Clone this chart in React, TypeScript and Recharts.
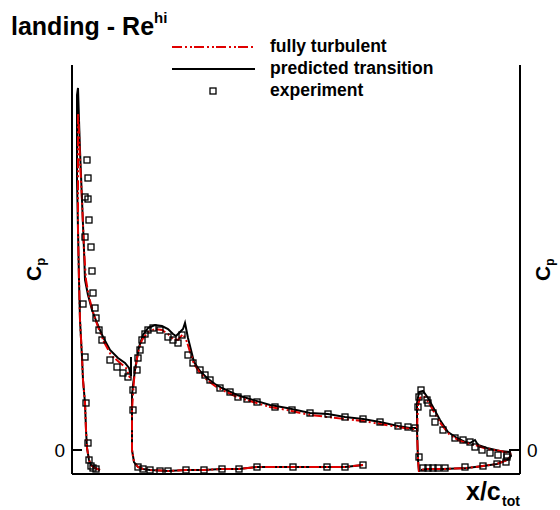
import React from 'react';
import { ComposedChart, Line, Scatter, XAxis, YAxis } from 'recharts';

// x = x/c_tot (plot units), y = -Cp
const slatTransition: [number, number][] = [
  [0.07, -0.2], [0.0575, -0.18], [0.0475, -0.15], [0.0425, -0.1], [0.0375, 0.02], [0.035, 0.2],
  [0.0325, 0.47], [0.0275, 0.7], [0.025, 0.93], [0.02, 1.3], [0.0175, 1.7], [0.015, 2.2],
  [0.0125, 2.7], [0.0125, 3.1], [0.0125, 3.4], [0.0125, 3.55], [0.015, 3.62], [0.0175, 3.3],
  [0.02, 3.0], [0.025, 2.5], [0.03, 2.0], [0.0325, 1.7], [0.04, 1.55], [0.05, 1.4],
  [0.0625, 1.27], [0.0775, 1.13], [0.095, 1.0], [0.115, 0.92], [0.1325, 0.87], [0.1425, 0.82],
  [0.1475, 0.74], [0.1475, 0.93],
];
const slatTurbulent: [number, number][] = [
  [0.07, -0.2], [0.0575, -0.18], [0.0475, -0.15], [0.0425, -0.1], [0.0375, 0.02], [0.035, 0.2],
  [0.0325, 0.47], [0.0275, 0.7], [0.025, 0.93], [0.02, 1.3], [0.0175, 1.7], [0.015, 2.2],
  [0.015, 2.7], [0.015, 3.1], [0.015, 3.37], [0.0175, 3.2], [0.02, 2.9], [0.025, 2.5],
  [0.03, 2.0], [0.035, 1.7], [0.0425, 1.53], [0.0525, 1.38], [0.065, 1.23], [0.08, 1.08],
  [0.0975, 0.95], [0.1175, 0.88], [0.135, 0.82], [0.145, 0.72],
];
const mainTransition: [number, number][] = [
  [0.7275, -0.15], [0.6825, -0.17], [0.6375, -0.17], [0.5525, -0.17], [0.4625, -0.17], [0.4175, -0.19],
  [0.3725, -0.19], [0.33, -0.2], [0.285, -0.2], [0.24, -0.21], [0.195, -0.2], [0.1775, -0.19],
  [0.165, -0.17], [0.155, -0.12], [0.15, 0.0], [0.15, 0.2], [0.15, 0.4], [0.15, 0.55],
  [0.1525, 0.65], [0.1575, 0.8], [0.1625, 0.92], [0.1675, 1.03], [0.1775, 1.15], [0.19, 1.22],
  [0.2075, 1.25], [0.225, 1.24], [0.24, 1.21], [0.2525, 1.16], [0.26, 1.14], [0.27, 1.18],
  [0.2775, 1.21], [0.2825, 1.27], [0.29, 1.12], [0.2975, 1.0], [0.305, 0.88], [0.32, 0.79],
  [0.3375, 0.72], [0.3575, 0.66], [0.375, 0.62], [0.4125, 0.55], [0.4525, 0.5], [0.495, 0.45],
  [0.5375, 0.42], [0.595, 0.37], [0.64, 0.36], [0.6825, 0.33], [0.7275, 0.31], [0.77, 0.28],
  [0.815, 0.24], [0.845, 0.22], [0.865, 0.22],
];
const mainTurbulent: [number, number][] = [
  [0.7275, -0.15], [0.6825, -0.17], [0.6375, -0.17], [0.5525, -0.17], [0.4625, -0.17], [0.4175, -0.19],
  [0.3725, -0.19], [0.33, -0.2], [0.285, -0.2], [0.24, -0.21], [0.195, -0.2], [0.1775, -0.19],
  [0.165, -0.17], [0.155, -0.12], [0.15, 0.0], [0.15, 0.2], [0.15, 0.4], [0.1525, 0.55],
  [0.155, 0.7], [0.16, 0.85], [0.165, 0.98], [0.175, 1.1], [0.19, 1.18], [0.2075, 1.21],
  [0.225, 1.2], [0.24, 1.16], [0.2525, 1.11], [0.265, 1.1], [0.2775, 1.16], [0.2875, 1.08],
  [0.295, 0.98], [0.305, 0.86], [0.32, 0.77], [0.3375, 0.7], [0.3575, 0.64], [0.375, 0.6],
  [0.4125, 0.53], [0.4525, 0.48], [0.495, 0.43], [0.5375, 0.4], [0.595, 0.35], [0.64, 0.33],
  [0.6825, 0.31], [0.7275, 0.29], [0.77, 0.26], [0.815, 0.23], [0.845, 0.21], [0.865, 0.21],
];
const flapTransition: [number, number][] = [
  [0.8675, -0.22], [0.865, -0.1], [0.8625, 0.2], [0.8625, 0.47], [0.8675, 0.58], [0.8775, 0.59],
  [0.89, 0.52], [0.9025, 0.43], [0.92, 0.3], [0.94, 0.18], [0.9625, 0.12], [0.9825, 0.08],
  [0.995, 0.07], [1.0075, 0.1], [1.015, 0.05], [1.0375, 0.02], [1.07, -0.01], [1.095, -0.02],
  [1.0975, -0.06], [1.0875, -0.1], [1.0625, -0.14], [1.0275, -0.16], [0.9875, -0.18], [0.9275, -0.19],
  [0.8875, -0.19], [0.8725, -0.2],
];
const flapTurbulent: [number, number][] = [
  [0.8675, -0.22], [0.865, -0.1], [0.8625, 0.2], [0.865, 0.45], [0.87, 0.52], [0.88, 0.54],
  [0.8925, 0.47], [0.905, 0.38], [0.9225, 0.26], [0.9425, 0.16], [0.965, 0.1], [0.985, 0.07],
  [1.0075, 0.05], [1.0375, 0.01], [1.07, -0.01], [1.095, -0.03], [1.0975, -0.06], [1.0875, -0.1],
  [1.0625, -0.14], [1.0275, -0.16], [0.9875, -0.18], [0.9275, -0.19], [0.8875, -0.19], [0.8725, -0.2],
];
const experiment: [number, number][] = [
  // slat
  [0.0375, 2.9], [0.04, 2.72], [0.0325, 2.53], [0.04, 2.51], [0.0425, 2.3], [0.0325, 2.13],
  [0.0475, 2.03], [0.05, 1.79], [0.0525, 1.57], [0.0275, 1.46], [0.0575, 1.42], [0.06, 1.32],
  [0.0675, 1.2], [0.075, 1.1], [0.095, 0.9], [0.1125, 0.83], [0.1275, 0.77], [0.14, 0.73],
  [0.0325, 0.93], [0.035, 0.47], [0.04, 0.07], [0.0425, -0.1], [0.0475, -0.16], [0.0525, -0.18],
  [0.06, -0.19],
  // main
  [0.1525, 0.6], [0.1525, 0.4], [0.1625, 0.8], [0.165, 0.92], [0.17, 1.0], [0.175, 1.1],
  [0.1825, 1.16], [0.19, 1.2], [0.2025, 1.22], [0.22, 1.2], [0.24, 1.13], [0.2525, 1.1],
  [0.265, 1.07], [0.275, 1.15], [0.29, 0.95], [0.3025, 0.87], [0.32, 0.8], [0.3325, 0.75],
  [0.345, 0.7], [0.37, 0.62], [0.395, 0.58], [0.415, 0.53], [0.4375, 0.51], [0.4625, 0.48],
  [0.5075, 0.43], [0.55, 0.4], [0.595, 0.37], [0.64, 0.36], [0.6825, 0.33], [0.7275, 0.31],
  [0.77, 0.28], [0.815, 0.24], [0.84, 0.23], [0.8575, 0.22],
  [0.165, -0.17], [0.1775, -0.19], [0.195, -0.2], [0.22, -0.21], [0.24, -0.21], [0.285, -0.2],
  [0.33, -0.2], [0.375, -0.19], [0.4175, -0.19], [0.4625, -0.17], [0.5525, -0.17], [0.6375, -0.17],
  [0.6825, -0.17], [0.7275, -0.15],
  // flap
  [0.8725, 0.6], [0.8675, 0.53], [0.865, 0.43], [0.8875, 0.5], [0.89, 0.47], [0.9025, 0.37],
  [0.9075, 0.28], [0.9275, 0.2], [0.9575, 0.12], [0.9775, 0.1], [0.995, 0.08], [1.0075, 0.03],
  [1.025, 0.0], [1.045, -0.03], [1.065, -0.05], [1.0875, -0.07], [1.085, -0.12], [1.0875, -0.05],
  [0.8675, -0.07], [0.8775, -0.18], [0.89, -0.18], [0.9025, -0.18], [0.915, -0.18], [0.9325, -0.18],
  [0.9825, -0.17], [1.0275, -0.16], [1.0625, -0.14],
];

const xDomain: [number, number] = [0, 1.12];
const yDomain: [number, number] = [-0.24, 3.85];
const yTicks = [0];

const toPts = (a: [number, number][]) => a.map(([x, y]) => ({ x, y }));

const FONT = '"Liberation Sans", Arial, Helvetica, sans-serif';
const RED = '#e00000';
const DASH = '10 3 2 3 2 2';

const LeftTick = (props: any) => {
  const { x, y, payload } = props;
  return (
    <g>
      <line x1={x} x2={x + 10} y1={y} y2={y} stroke="#000" strokeWidth={2} />
      <text x={x - 7} y={y + 7} textAnchor="end" fontSize={19} fontFamily={FONT} fill="#000">
        {payload.value}
      </text>
    </g>
  );
};
const RightTick = (props: any) => {
  const { x, y, payload } = props;
  return (
    <g>
      <line x1={x - 11} x2={x} y1={y} y2={y} stroke="#000" strokeWidth={2} />
      <text x={x + 7} y={y + 7} textAnchor="start" fontSize={19} fontFamily={FONT} fill="#000">
        {payload.value}
      </text>
    </g>
  );
};

const Square = (props: any) => {
  const { cx, cy } = props;
  if (cx == null || cy == null) return null;
  return <rect x={cx - 3} y={cy - 3} width={6} height={6} fill="none" stroke="#000" strokeWidth={1.3} />;
};

export default function App() {
  const lineCommon = {
    type: 'linear' as const,
    dataKey: 'y',
    dot: false,
    activeDot: false,
    isAnimationActive: false,
    yAxisId: 'left',
    strokeWidth: 2,
  };
  return (
    <div style={{ position: 'absolute', left: 0, top: 0, width: 560, height: 510, background: '#fff' }}>
      <ComposedChart width={560} height={510} margin={{ top: 65, right: 0, bottom: 0, left: 0 }}>
        <XAxis
          type="number"
          dataKey="x"
          domain={xDomain}
          allowDataOverflow
          height={36}
          tick={false}
          tickLine={false}
          axisLine={{ stroke: '#000', strokeWidth: 2 }}
        />
        <YAxis
          yAxisId="left"
          type="number"
          domain={yDomain}
          allowDataOverflow
          ticks={yTicks}
          interval={0}
          width={72}
          tickSize={0}
          tickMargin={0}
          tickLine={false}
          tick={<LeftTick />}
          axisLine={{ stroke: '#000', strokeWidth: 2 }}
        />
        <YAxis
          yAxisId="right"
          orientation="right"
          type="number"
          domain={yDomain}
          allowDataOverflow
          ticks={yTicks}
          interval={0}
          width={40}
          tickSize={0}
          tickMargin={0}
          tickLine={false}
          tick={<RightTick />}
          axisLine={{ stroke: '#000', strokeWidth: 2 }}
        />
        <Line {...lineCommon} data={toPts(slatTransition)} stroke="#000" />
        <Line {...lineCommon} data={toPts(mainTransition)} stroke="#000" />
        <Line {...lineCommon} data={toPts(flapTransition)} stroke="#000" />
        <Line {...lineCommon} data={toPts(slatTurbulent)} stroke={RED} strokeDasharray={DASH} />
        <Line {...lineCommon} data={toPts(mainTurbulent)} stroke={RED} strokeDasharray={DASH} />
        <Line {...lineCommon} data={toPts(flapTurbulent)} stroke={RED} strokeDasharray={DASH} />
        <Scatter yAxisId="left" data={toPts(experiment)} dataKey="y" shape={<Square />} isAnimationActive={false} />
      </ComposedChart>
      <svg
        width={560}
        height={510}
        style={{ position: 'absolute', left: 0, top: 0, pointerEvents: 'none' }}
        fontFamily={FONT}
      >
        <text x={11} y={35} fontSize={25} fontWeight="bold" fill="#000">
          landing - Re
          <tspan dy={-12} fontSize={15}>hi</tspan>
        </text>
        <line x1={172} x2={255} y1={47} y2={47} stroke={RED} strokeWidth={2} strokeDasharray={DASH} />
        <line x1={172} x2={255} y1={69} y2={69} stroke="#000" strokeWidth={2} />
        <rect x={210} y={88} width={6} height={6} fill="none" stroke="#000" strokeWidth={1.3} />
        <text x={270} y={52} fontSize={17.5} fontWeight="bold" fill="#000">fully turbulent</text>
        <text x={270} y={74} fontSize={17.5} fontWeight="bold" fill="#000">predicted transition</text>
        <text x={270} y={96} fontSize={17.5} fontWeight="bold" fill="#000">experiment</text>
        <text transform="rotate(-90 41 281)" x={41} y={281} fontSize={21} fontWeight="bold" fill="#000">
          C<tspan dy={4} fontSize={13}>p</tspan>
        </text>
        <text transform="rotate(-90 550 281)" x={550} y={281} fontSize={21} fontWeight="bold" fill="#000">
          C<tspan dy={4} fontSize={12}>p</tspan>
        </text>
        <text x={466} y={500} fontSize={25} fontWeight="bold" fill="#000">x/c</text>
        <text x={502} y={506} fontSize={14} fontWeight="bold" fill="#000">tot</text>
      </svg>
    </div>
  );
}
